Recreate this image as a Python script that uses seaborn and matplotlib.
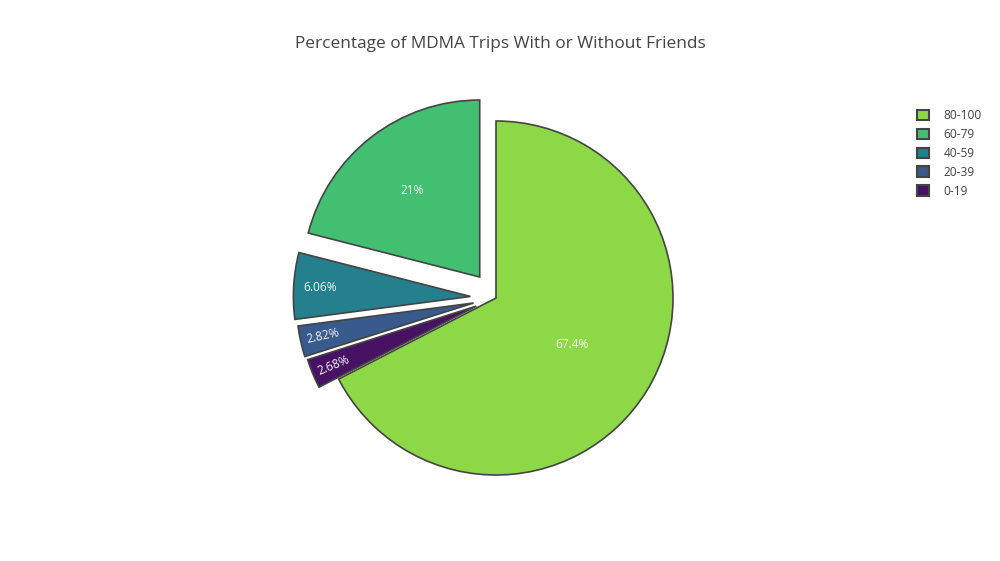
import numpy as np
import matplotlib
matplotlib.use("Agg")
import matplotlib.pyplot as plt
import seaborn as sns

# Data (drawing order: counter-clockwise from 12 o'clock)
categories = ["60-79", "40-59", "20-39", "0-19", "80-100"]
values = [21.0, 6.06, 2.82, 2.68, 67.4]
legend_order = ["80-100", "60-79", "40-59", "20-39", "0-19"]
title = "Percentage of MDMA Trips With or Without Friends"

# Styling
colors = ["#43bf71", "#23808c", "#385a8c", "#471164", "#8dd846"]
explode = [0.15, 0.145, 0.13, 0.12, 0.0]
label_dist = [0.62, 0.85, 0.87, 0.87, 0.5]
radial_labels = [False, False, True, True, False]

sns.set_theme(style="white")
plt.rcParams["font.family"] = ["Open Sans", "DejaVu Sans"]

W, H, DPI = 1000, 561, 100
fig = plt.figure(figsize=(W / DPI, H / DPI), dpi=DPI)
ax = fig.add_axes([0, 0, 1, 1])

R_PX = 177.0
CX, CY = 496.0, 298.0

wedges, texts, autotexts = ax.pie(
    values,
    colors=colors,
    explode=explode,
    startangle=90,
    counterclock=True,
    autopct=lambda p: f"{p:.3g}%",
    wedgeprops=dict(edgecolor="#444444", linewidth=1.2),
    textprops=dict(color="#f5f5f5", fontsize=8.6),
    radius=1.0,
)

for w, t, f, rad in zip(wedges, autotexts, label_dist, radial_labels):
    mid = np.deg2rad((w.theta1 + w.theta2) / 2)
    cx, cy = w.center
    t.set_position((cx + f * w.r * np.cos(mid), cy + f * w.r * np.sin(mid)))
    t.set_ha("center")
    t.set_va("center")
    if rad:
        t.set_rotation(np.rad2deg(mid) - 180)
        t.set_rotation_mode("anchor")

ax.set_xlim(-CX / R_PX, (W - CX) / R_PX)
ax.set_ylim(-(H - CY) / R_PX, CY / R_PX)
ax.set_aspect("auto")
ax.axis("off")

fig.text(0.5, 1 - 44 / H, title, ha="center", va="center",
         fontsize=12.4, color="#444444")

handle_map = dict(zip(categories, wedges))
handles = [handle_map[c] for c in legend_order]
leg = fig.legend(
    handles, legend_order,
    loc="upper left",
    bbox_to_anchor=(917 / W, 1 - 109 / H),
    frameon=False,
    fontsize=8.6,
    handlelength=1.0,
    handleheight=1.0,
    handletextpad=1.25,
    labelspacing=0.5,
    borderpad=0.0,
    borderaxespad=0.0,
)
for txt in leg.get_texts():
    txt.set_color("#444444")
for p in leg.get_patches():
    p.set_linewidth(1.5)

fig.savefig("out.png", dpi=DPI, facecolor="white")
